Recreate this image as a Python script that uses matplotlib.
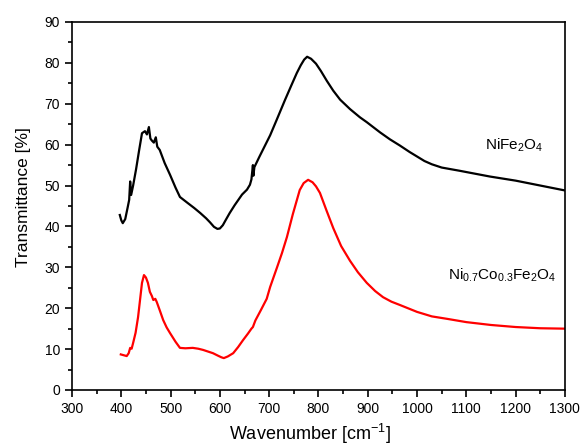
import matplotlib
matplotlib.use("Agg")
import matplotlib.pyplot as plt
from matplotlib.ticker import MultipleLocator

plt.rcParams['font.family'] = ['Liberation Sans', 'DejaVu Sans']
plt.rcParams['mathtext.fontset'] = 'custom'
plt.rcParams['mathtext.rm'] = 'Liberation Sans'
plt.rcParams['mathtext.it'] = 'Liberation Sans:italic'
plt.rcParams['mathtext.default'] = 'regular'

# NiFe2O4 spectrum
nife_x = [397, 400, 403, 408, 413, 416, 418, 420, 424, 430, 436, 442, 448, 452, 456, 459,
          462, 466, 470, 473, 478, 488, 499, 510, 519, 535, 548, 560, 572, 580, 588, 595, 600,
          606, 612, 620, 630, 645, 655, 661, 664, 667, 668, 670, 680, 702, 715, 732, 745, 756,
          764, 771, 777, 785, 795, 805, 817, 830, 844, 864, 884, 898, 925, 945, 965, 985,
          1000, 1015, 1030, 1050, 1087, 1100, 1148, 1200, 1250, 1300]
nife_y = [42.8, 41.5, 40.8, 41.8, 44.7, 46.5, 51.0, 47.7, 50.0, 54.0, 58.5, 62.8, 63.3, 62.5, 64.3, 61.5,
          61.0, 60.5, 61.8, 59.5, 58.7, 55.5, 52.6, 49.5, 47.2, 45.7, 44.5, 43.3, 42.0, 41.0, 39.9, 39.4, 39.5,
          40.3, 41.6, 43.3, 45.2, 47.8, 49.0, 50.2, 51.5, 55.0, 52.4, 54.5, 57.0, 62.3, 66.0, 70.9, 74.5, 77.5,
          79.4, 80.8, 81.5, 81.0, 79.8, 78.0, 75.6, 73.2, 71.0, 68.7, 66.7, 65.5, 63.0, 61.3, 59.8, 58.2,
          57.1, 56.0, 55.2, 54.4, 53.6, 53.3, 52.2, 51.2, 50.0, 48.8]

# Ni0.7Co0.3Fe2O4 spectrum
nico_x = [399, 405, 411, 415, 418, 421, 424, 429, 434, 438, 442, 446, 450, 454, 458, 462,
          465, 469, 472, 478, 485, 492, 499, 510, 519, 530, 545, 556, 566, 576, 586, 596,
          603, 608, 616, 627, 637, 647, 657, 664, 667, 672, 683, 695, 702, 716, 726, 736, 748,
          762, 770, 779, 788, 795, 803, 816, 830, 846, 864, 880, 898, 915, 931, 948, 965,
          1000, 1030, 1061, 1100, 1150, 1200, 1250, 1300]
nico_y = [8.7, 8.5, 8.3, 9.0, 10.3, 10.1, 11.5, 14.0, 17.8, 22.0, 26.2, 28.1, 27.5, 26.2, 24.0, 23.0,
          22.0, 22.3, 21.5, 19.5, 17.1, 15.3, 13.9, 11.8, 10.3, 10.2, 10.3, 10.1, 9.8, 9.4, 9.0, 8.4,
          8.0, 7.8, 8.2, 9.0, 10.5, 12.2, 13.8, 15.0, 15.4, 17.0, 19.5, 22.3, 25.2, 30.0, 33.5, 37.4, 43.0,
          48.9, 50.6, 51.4, 50.8, 49.8, 48.2, 44.0, 39.6, 35.2, 31.6, 28.8, 26.2, 24.2, 22.7, 21.6, 20.8,
          19.1, 18.0, 17.4, 16.6, 15.9, 15.4, 15.1, 15.0]

fig = plt.figure(figsize=(5.83, 4.45), dpi=100)
ax = fig.add_axes([0.1235, 0.1236, 0.8455, 0.827])

ax.plot(nife_x, nife_y, color='black', lw=1.6)
ax.plot(nico_x, nico_y, color='#ff0000', lw=1.6)

ax.text(1138, 59.9, 'NiFe$_2$O$_4$', fontsize=11, va='center', ha='left')
ax.text(1063, 28.1, 'Ni$_{0.7}$Co$_{0.3}$Fe$_2$O$_4$', fontsize=11, va='center', ha='left')

ax.set_xlim(300, 1300)
ax.set_ylim(0, 90)
ax.xaxis.set_major_locator(MultipleLocator(100))
ax.xaxis.set_minor_locator(MultipleLocator(50))
ax.yaxis.set_major_locator(MultipleLocator(10))
ax.yaxis.set_minor_locator(MultipleLocator(5))
ax.tick_params(which='both', direction='out', top=False, right=False, width=1.2, labelsize=10)
ax.tick_params(which='major', length=5)
ax.tick_params(which='minor', length=3)
for s in ax.spines.values():
    s.set_linewidth(1.2)

ax.set_xlabel('Wavenumber [cm$^{-1}$]', fontsize=13)
ax.set_ylabel('Transmittance [%]', fontsize=12.5)
ax.xaxis.set_label_coords(0.483, -0.088)
ax.yaxis.set_label_coords(-0.083, 0.525)

fig.savefig('out.png', dpi=100)
